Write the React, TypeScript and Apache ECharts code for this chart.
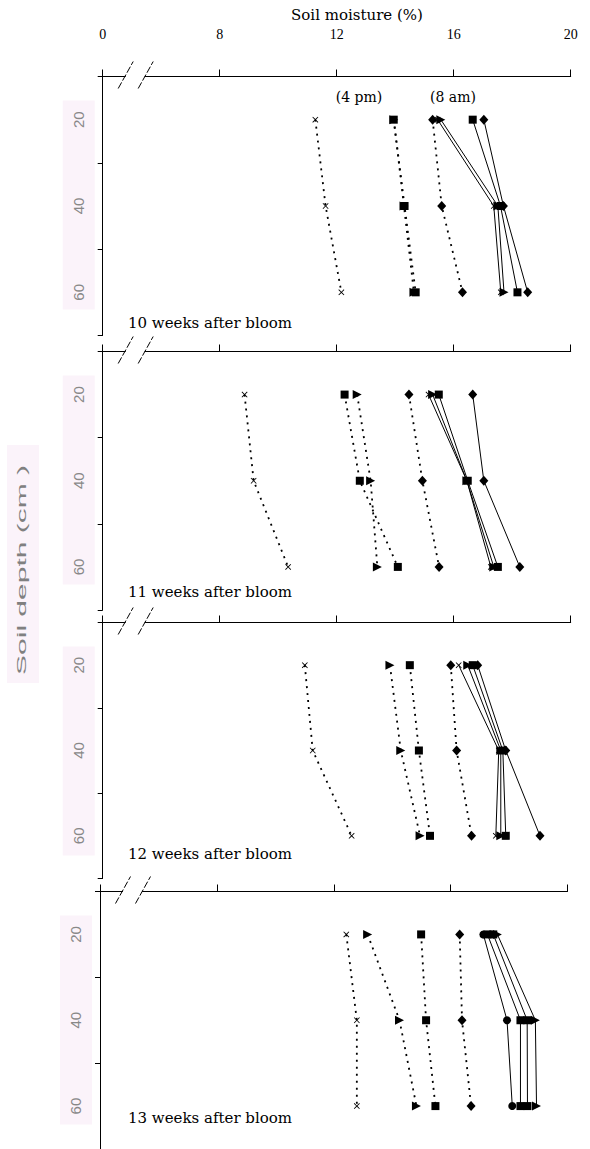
import React, { useEffect, useRef } from "react";
import * as echarts from "echarts";

// Soil depths (cm)
const depths = [20, 40, 60];
// x tick values (4 stands for the broken-axis "0")
const xTickValues = [4, 8, 12, 16, 20];
const xTickLabels = ["0", "8", "12", "16", "20"];
const yTickValues = [10, 30, 50, 70];
const yLabelValues = [20, 40, 60];
const panelTitles = [
  "10 weeks after bloom",
  "11 weeks after bloom",
  "12 weeks after bloom",
  "13 weeks after bloom",
];

// 10 weeks after bloom
const w10PmCross = [11.27, 11.62, 12.16];
const w10PmTriangle = [13.95, 14.3, 14.64];
const w10PmSquare = [13.95, 14.32, 14.7];
const w10PmDiamond = [15.28, 15.59, 16.3];
const w10AmCross = [15.45, 17.37, 17.61];
const w10AmTriangle = [15.56, 17.51, 17.72];
const w10AmSquare = [16.65, 17.6, 18.18];
const w10AmDiamond = [17.03, 17.7, 18.53];

// 11 weeks after bloom
const w11PmCross = [8.85, 9.16, 10.34];
const w11PmSquare = [12.27, 12.79, 14.09];
const w11PmTriangle = [12.7, 13.16, 13.39];
const w11PmDiamond = [14.47, 14.93, 15.5];
const w11AmCross = [15.14, 16.45, 17.27];
const w11AmTriangle = [15.28, 16.45, 17.37];
const w11AmSquare = [15.49, 16.48, 17.51];
const w11AmDiamond = [16.65, 17.03, 18.26];

// 12 weeks after bloom
const w12PmCross = [10.91, 11.18, 12.51];
const w12PmTriangle = [13.82, 14.19, 14.85];
const w12PmSquare = [14.5, 14.81, 15.19];
const w12PmDiamond = [15.9, 16.1, 16.61];
const w12AmCross = [16.17, 17.54, 17.44];
const w12AmTriangle = [16.48, 17.61, 17.61];
const w12AmSquare = [16.65, 17.68, 17.78];
const w12AmDiamond = [16.82, 17.78, 18.95];

// 13 weeks after bloom
const w13PmCross = [12.43, 12.79, 12.79];
const w13PmTriangle = [13.16, 14.25, 14.83];
const w13PmSquare = [14.99, 15.16, 15.48];
const w13PmDiamond = [16.31, 16.39, 16.7];
const w13AmCircle = [17.12, 17.93, 18.11];
const w13AmSquare1 = [17.26, 18.39, 18.39];
const w13AmSquare2 = [17.46, 18.62, 18.63];
const w13AmTriangle = [17.6, 18.9, 18.94];

const CROSS = "path://M0,1L1,0L5,4L9,0L10,1L6,5L10,9L9,10L5,6L1,10L0,9L4,5Z";
const markers: Record<string, any> = {
  cross: { symbol: CROSS, symbolSize: 6, symbolRotate: 0 },
  square: { symbol: "rect", symbolSize: 8, symbolRotate: 0 },
  diamond: { symbol: "diamond", symbolSize: [9, 10], symbolRotate: 0 },
  triangle: { symbol: "triangle", symbolSize: 9, symbolRotate: -90 },
  circle: { symbol: "circle", symbolSize: 8, symbolRotate: 0 },
};

const panelSeries: [string, "pm" | "am", number[]][][] = [
  [
    ["cross", "pm", w10PmCross],
    ["triangle", "pm", w10PmTriangle],
    ["square", "pm", w10PmSquare],
    ["diamond", "pm", w10PmDiamond],
    ["cross", "am", w10AmCross],
    ["triangle", "am", w10AmTriangle],
    ["square", "am", w10AmSquare],
    ["diamond", "am", w10AmDiamond],
  ],
  [
    ["cross", "pm", w11PmCross],
    ["square", "pm", w11PmSquare],
    ["triangle", "pm", w11PmTriangle],
    ["diamond", "pm", w11PmDiamond],
    ["cross", "am", w11AmCross],
    ["triangle", "am", w11AmTriangle],
    ["square", "am", w11AmSquare],
    ["diamond", "am", w11AmDiamond],
  ],
  [
    ["cross", "pm", w12PmCross],
    ["triangle", "pm", w12PmTriangle],
    ["square", "pm", w12PmSquare],
    ["diamond", "pm", w12PmDiamond],
    ["cross", "am", w12AmCross],
    ["triangle", "am", w12AmTriangle],
    ["square", "am", w12AmSquare],
    ["diamond", "am", w12AmDiamond],
  ],
  [
    ["cross", "pm", w13PmCross],
    ["triangle", "pm", w13PmTriangle],
    ["square", "pm", w13PmSquare],
    ["diamond", "pm", w13PmDiamond],
    ["circle", "am", w13AmCircle],
    ["square", "am", w13AmSquare1],
    ["square", "am", w13AmSquare2],
    ["triangle", "am", w13AmTriangle],
  ],
];

const panels = [
  { left: 102.7, top: 76.5, width: 468, height: 259, labelY: 323 },
  { left: 102.7, top: 351.5, width: 468, height: 258.5, labelY: 592 },
  { left: 102.7, top: 622.5, width: 468, height: 256, labelY: 854 },
  { left: 100, top: 891.5, width: 467.5, height: 260, labelY: 1118 },
];

const SERIF = "DejaVu Serif";

function buildOption() {
  const series: any[] = [];
  panelSeries.forEach((list, pi) => {
    list.forEach(([mk, time, vals]) => {
      const m = markers[mk];
      series.push({
        type: "line",
        xAxisIndex: pi,
        yAxisIndex: pi,
        data: depths.map((d, j) => [vals[j], d]),
        symbol: m.symbol,
        symbolSize: m.symbolSize,
        symbolRotate: m.symbolRotate,
        showSymbol: true,
        z: time === "am" ? 4 : 3,
        itemStyle: { color: "#000", borderWidth: 0 },
        lineStyle:
          time === "pm"
            ? { color: "#000", width: 1.8, type: [2, 5] }
            : { color: "#000", width: 1, type: "solid" },
        emphasis: { disabled: true },
        silent: true,
      });
    });
  });

  const graphic: any[] = [];
  // title
  graphic.push({
    type: "text",
    x: 357,
    y: 15,
    style: {
      text: "Soil moisture (%)",
      font: `15px "${SERIF}"`,
      fill: "#000",
      align: "center",
      verticalAlign: "middle",
    },
  });
  graphic.push({
    type: "text",
    x: 359,
    y: 97,
    style: { text: "(4 pm)", font: `14px "${SERIF}"`, fill: "#000", align: "center", verticalAlign: "middle" },
  });
  graphic.push({
    type: "text",
    x: 453,
    y: 97,
    style: { text: "(8 am)", font: `14px "${SERIF}"`, fill: "#000", align: "center", verticalAlign: "middle" },
  });
  // y title band and text
  graphic.push({
    type: "rect",
    z: -10,
    shape: { x: 7, y: 445, width: 32, height: 238 },
    style: { fill: "#fbf3fa" },
  });
  graphic.push({
    type: "text",
    x: 22,
    y: 570,
    rotation: Math.PI / 2,
    scaleX: 2.5,
    style: {
      text: "Soil depth (cm )",
      font: '12px "Liberation Sans"',
      fill: "#808080",
      align: "center",
      verticalAlign: "middle",
    },
  });

  panels.forEach((p, i) => {
    const y0 = p.top;
    // pink band behind depth labels
    graphic.push({
      type: "rect",
      z: -10,
      shape: { x: p.left - 40, y: y0 + 24, width: 32, height: 209 },
      style: { fill: "#fbf3fa" },
    });
    // gap in axis line
    graphic.push({
      type: "rect",
      z: 50,
      shape: { x: p.left + 23, y: y0 - 2, width: 19, height: 4 },
      style: { fill: "#fff" },
    });
    // break slashes
    [0, 20].forEach((dx) => {
      graphic.push({
        type: "line",
        z: 51,
        shape: { x1: p.left + 15.5 + dx, y1: y0 + 12, x2: p.left + 30.5 + dx, y2: y0 - 15 },
        style: { stroke: "#000", lineWidth: 1, lineDash: [7, 2] },
      });
    });
    graphic.push({
      type: "text",
      x: 128,
      y: p.labelY,
      style: {
        text: panelTitles[i],
        font: `15px "${SERIF}"`,
        fill: "#000",
        align: "left",
        verticalAlign: "middle",
      },
    });
  });

  return {
    animation: false,
    backgroundColor: "#fff",
    grid: panels.map((p) => ({ left: p.left, top: p.top, width: p.width, height: p.height, containLabel: false })),
    xAxis: panels.map((p, i) => ({
      gridIndex: i,
      type: "value",
      position: "top",
      min: 4,
      max: 20,
      axisLine: { show: true, onZero: false, lineStyle: { color: "#000", width: 1 } },
      axisTick: { show: true, customValues: xTickValues, length: 7, inside: false, lineStyle: { color: "#000", width: 1 } },
      axisLabel: {
        show: i === 0,
        customValues: xTickValues,
        formatter: (v: number) => xTickLabels[xTickValues.indexOf(v)] ?? String(v),
        color: "#000",
        fontFamily: "Liberation Serif",
        fontSize: 14,
        margin: 35,
      },
      splitLine: { show: false },
    })),
    yAxis: panels.map((p, i) => ({
      gridIndex: i,
      type: "value",
      inverse: true,
      min: 10,
      max: 70,
      axisLine: { show: true, onZero: false, lineStyle: { color: "#000", width: 1 } },
      axisTick: { show: true, customValues: yTickValues, length: 5, inside: false, lineStyle: { color: "#000", width: 1 } },
      axisLabel: {
        show: true,
        customValues: yLabelValues,
        rotate: 90,
        color: "#888",
        fontFamily: "Liberation Sans",
        fontSize: 15,
        margin: 17,
      },
      splitLine: { show: false },
    })),
    graphic,
    series,
  };
}

export default function App() {
  const ref = useRef<HTMLDivElement>(null);
  useEffect(() => {
    if (!ref.current) return;
    const chart = echarts.init(ref.current, undefined, { renderer: "svg" });
    chart.setOption(buildOption() as any);
    return () => chart.dispose();
  }, []);
  return (
    <div
      ref={ref}
      style={{ position: "absolute", left: 0, top: 0, width: 590, height: 1149, background: "#fff" }}
    />
  );
}
